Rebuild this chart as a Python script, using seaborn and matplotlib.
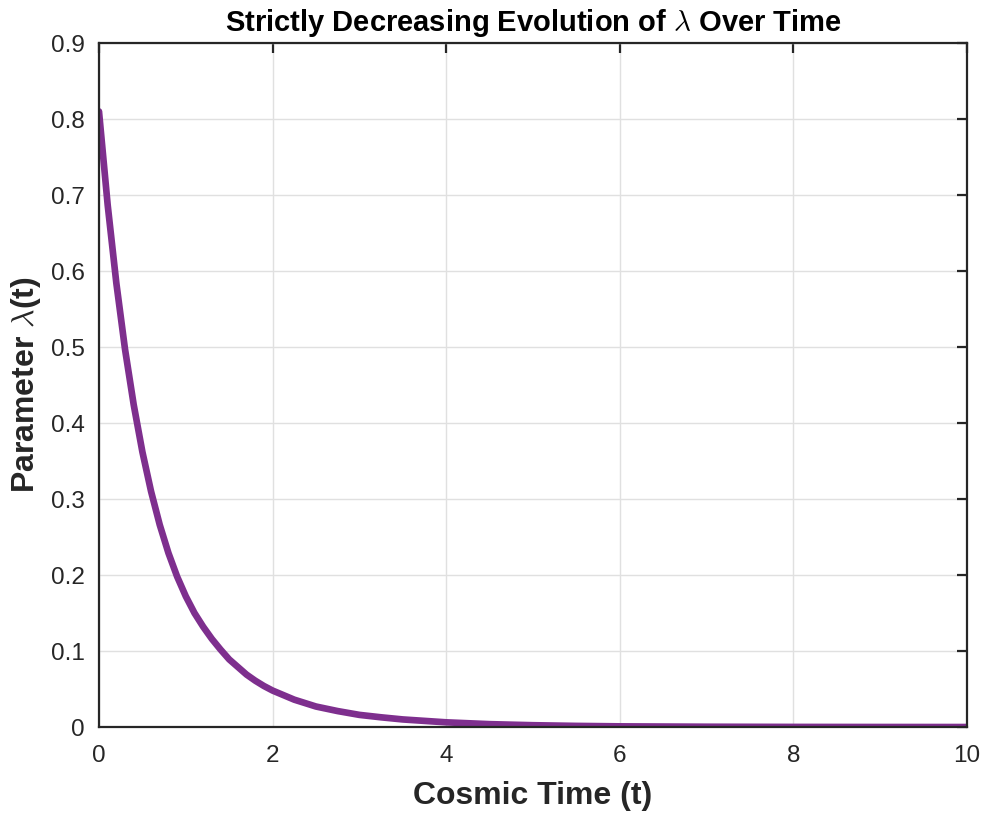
import matplotlib
matplotlib.use("Agg")
import matplotlib.pyplot as plt
from matplotlib.ticker import FormatStrFormatter
import seaborn as sns
import pandas as pd

# Data
time_values = [0.0, 0.1, 0.2, 0.3, 0.4, 0.5, 0.6, 0.7, 0.8, 0.9, 1.0, 1.1, 1.2, 1.3, 1.4,
               1.5, 1.6, 1.7, 1.8, 1.9, 2.0, 2.25, 2.5, 2.75, 3.0, 3.25, 3.5, 4.0, 4.5,
               5.0, 5.5, 6.0, 7.0, 8.0, 9.0, 10.0]
lambda_values = [0.810, 0.687, 0.584, 0.497, 0.424, 0.362, 0.310, 0.266, 0.229, 0.198,
                 0.172, 0.150, 0.132, 0.116, 0.102, 0.089, 0.079, 0.069, 0.061, 0.054,
                 0.048, 0.036, 0.027, 0.021, 0.016, 0.0128, 0.010, 0.0062, 0.0038,
                 0.0024, 0.0015, 0.0009, 0.0004, 0.00015, 0.00006, 0.00002]
x_ticks = [0, 2, 4, 6, 8, 10]
y_ticks = [0, 0.1, 0.2, 0.3, 0.4, 0.5, 0.6, 0.7, 0.8, 0.9]

df = pd.DataFrame({"t": time_values, "lam": lambda_values})

sns.set_style("white")
plt.rcParams["font.family"] = ["Liberation Sans", "DejaVu Sans"]
plt.rcParams["mathtext.fontset"] = "cm"

fig = plt.figure(figsize=(9.85, 8.18), dpi=100)
ax = fig.add_axes([0.1005, 0.1112, 0.8812, 0.8362])

sns.lineplot(data=df, x="t", y="lam", ax=ax, color="#7E2F8E", linewidth=4.8)

ax.set_xlim(0, 10)
ax.set_ylim(0, 0.9)
ax.set_xticks(x_ticks)
ax.set_yticks(y_ticks)
ax.yaxis.set_major_formatter(FormatStrFormatter("%g"))
ax.grid(True, color="#e0e0e0", linewidth=1.0)
ax.set_axisbelow(True)

for s in ax.spines.values():
    s.set_visible(True)
    s.set_color("#262626")
    s.set_linewidth(1.6)

ax.tick_params(axis="both", which="both", direction="in", length=7, width=1.6,
               top=True, right=True, colors="#262626", labelsize=17.5)
ax.tick_params(axis="x", pad=13)
ax.tick_params(axis="y", pad=10)

ax.set_xlabel("Cosmic Time (t)", fontsize=23, fontweight="bold", color="#262626", labelpad=10)
ax.set_ylabel(r"Parameter $\lambda$(t)", fontsize=23, fontweight="bold", color="#262626", labelpad=6)
ax.set_title(r"Strictly Decreasing Evolution of $\lambda$ Over Time", fontsize=21,
             fontweight="bold", color="black", pad=9)

fig.savefig("out.png", dpi=100)
